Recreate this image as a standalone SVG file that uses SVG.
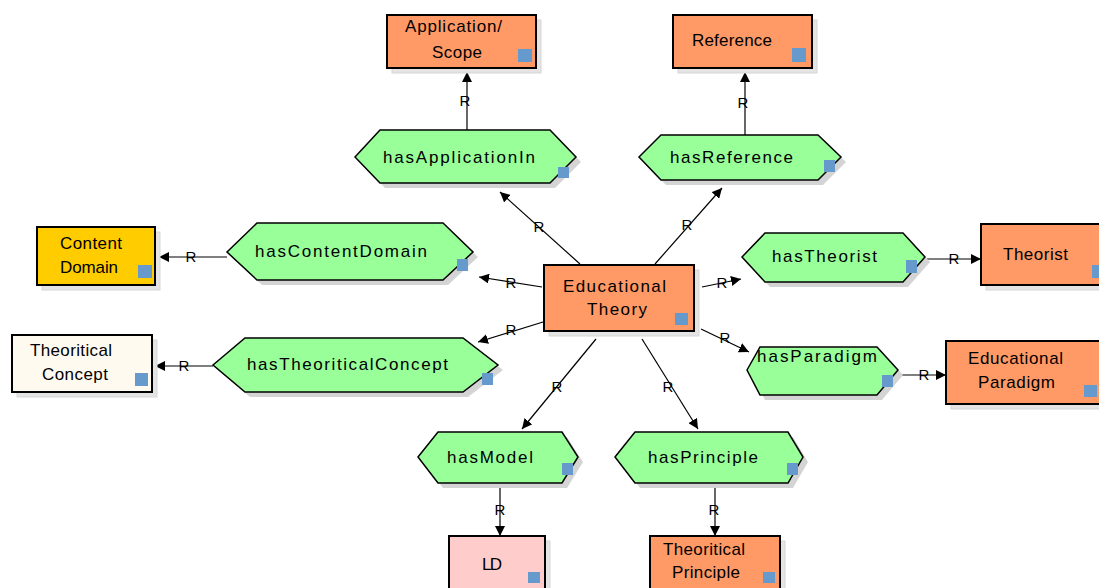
<svg xmlns="http://www.w3.org/2000/svg" width="1099" height="588" viewBox="0 0 1099 588">
<style>
  .t { font-family: "Liberation Sans", Arial, sans-serif; font-size: 17px; fill: #000; }
  .r { font-family: "Liberation Sans", Arial, sans-serif; font-size: 15px; fill: #000; text-anchor: middle; }
  .box { stroke: #000; stroke-width: 2; }
  .orange { fill: #FF9966; }
  .gold { fill: #FFCC00; }
  .cream { fill: #FFFAF0; }
  .pink { fill: #FFCCCC; }
  .hex { fill: #99FF99; stroke: #000; stroke-width: 1.5; }
  .shadow { fill: #e4e4e4; stroke: #d6d6d6; stroke-width: 1; }
  .hshadow { fill: #d4d4d4; }
  .sq { fill: #6699CC; }
  .conn { stroke: #000; stroke-width: 1.2; fill: none; marker-end: url(#arr); }
</style>
<defs>
  <marker id="arr" viewBox="0 0 10 10" refX="10" refY="5" markerWidth="10" markerHeight="10" markerUnits="userSpaceOnUse" orient="auto">
    <path d="M0,0 L10,5 L0,10 z" fill="#000"/>
  </marker>
</defs>
<rect width="1099" height="588" fill="#fff"/>

<g id="connectors">
  <line class="conn" x1="580" y1="264" x2="500" y2="192"/>
  <line class="conn" x1="655" y1="264" x2="722" y2="188"/>
  <line class="conn" x1="542" y1="287" x2="479" y2="277"/>
  <line class="conn" x1="702" y1="287" x2="741" y2="279"/>
  <line class="conn" x1="543" y1="322" x2="478" y2="342"/>
  <line class="conn" x1="701" y1="329" x2="749" y2="352"/>
  <line class="conn" x1="596" y1="339" x2="522" y2="429"/>
  <line class="conn" x1="642" y1="339" x2="698" y2="429"/>
  <line class="conn" x1="467" y1="130" x2="467" y2="72"/>
  <line class="conn" x1="745" y1="135" x2="745" y2="72"/>
  <line class="conn" x1="227" y1="257" x2="159" y2="257"/>
  <line class="conn" x1="213" y1="366" x2="155" y2="366"/>
  <line class="conn" x1="927" y1="259" x2="981" y2="259"/>
  <line class="conn" x1="902" y1="375" x2="946" y2="375"/>
  <line class="conn" x1="500" y1="483" x2="500" y2="536"/>
  <line class="conn" x1="715" y1="483" x2="715" y2="536"/>
  <text class="r" x="539" y="232">R</text>
  <text class="r" x="687" y="230">R</text>
  <text class="r" x="511" y="288">R</text>
  <text class="r" x="722" y="288">R</text>
  <text class="r" x="511" y="335">R</text>
  <text class="r" x="725" y="343">R</text>
  <text class="r" x="557" y="392">R</text>
  <text class="r" x="668" y="392">R</text>
  <text class="r" x="465" y="106">R</text>
  <text class="r" x="743" y="108">R</text>
  <text class="r" x="191" y="262">R</text>
  <text class="r" x="184" y="371">R</text>
  <text class="r" x="954" y="264">R</text>
  <text class="r" x="924" y="380">R</text>
  <text class="r" x="500" y="515">R</text>
  <text class="r" x="714" y="515">R</text>
</g>

<g id="node-application-scope">
  <rect class="shadow" x="392" y="20" width="149" height="53"/>
  <rect class="box orange" x="387" y="15" width="149" height="53"/>
  <text class="t" x="405" y="32" textLength="97" lengthAdjust="spacing">Application/</text>
  <text class="t" x="432" y="58" textLength="50" lengthAdjust="spacing">Scope</text>
  <rect class="sq" x="518" y="49" width="14" height="13"/>
</g>

<g id="node-reference">
  <rect class="shadow" x="678" y="20" width="139" height="53"/>
  <rect class="box orange" x="673" y="15" width="139" height="53"/>
  <text class="t" x="692" y="46" textLength="80" lengthAdjust="spacing">Reference</text>
  <rect class="sq" x="792" y="48" width="14" height="14"/>
</g>

<g id="node-content-domain">
  <rect class="shadow" x="42" y="232" width="118" height="58"/>
  <rect class="box gold" x="37" y="227" width="118" height="58"/>
  <text class="t" x="60" y="249" textLength="62" lengthAdjust="spacing">Content</text>
  <text class="t" x="60" y="273" textLength="58" lengthAdjust="spacing">Domain</text>
  <rect class="sq" x="138" y="265" width="14" height="13"/>
</g>

<g id="node-theoritical-concept">
  <rect class="shadow" x="17" y="340" width="140" height="57"/>
  <rect class="box cream" x="12" y="335" width="140" height="57"/>
  <text class="t" x="30" y="356" textLength="82" lengthAdjust="spacing">Theoritical</text>
  <text class="t" x="42" y="380" textLength="66" lengthAdjust="spacing">Concept</text>
  <rect class="sq" x="135" y="373" width="13" height="13"/>
</g>

<g id="node-educational-theory">
  <rect class="shadow" x="549" y="270" width="150" height="66"/>
  <rect class="box orange" x="544" y="265" width="150" height="66"/>
  <text class="t" x="563" y="292" textLength="103" lengthAdjust="spacing">Educational</text>
  <text class="t" x="587" y="315" textLength="60" lengthAdjust="spacing">Theory</text>
  <rect class="sq" x="675" y="313" width="13" height="12"/>
</g>

<g id="node-theorist">
  <rect class="shadow" x="986" y="229" width="125" height="61"/>
  <rect class="box orange" x="981" y="224" width="125" height="61"/>
  <text class="t" x="1003" y="260" textLength="65" lengthAdjust="spacing">Theorist</text>
  <rect class="sq" x="1092" y="265" width="14" height="13"/>
</g>

<g id="node-educational-paradigm">
  <rect class="shadow" x="951" y="346" width="160" height="63"/>
  <rect class="box orange" x="946" y="341" width="160" height="63"/>
  <text class="t" x="968" y="364" textLength="95" lengthAdjust="spacing">Educational</text>
  <text class="t" x="978" y="388" textLength="77" lengthAdjust="spacing">Paradigm</text>
  <rect class="sq" x="1084" y="385" width="13" height="12"/>
</g>

<g id="node-ld">
  <rect class="shadow" x="454" y="541" width="96" height="60"/>
  <rect class="box pink" x="449" y="536" width="96" height="60"/>
  <text class="t" x="482" y="570" textLength="20" lengthAdjust="spacing">LD</text>
  <rect class="sq" x="528" y="572" width="12" height="11"/>
</g>

<g id="node-theoritical-principle">
  <rect class="shadow" x="655" y="541" width="130" height="60"/>
  <rect class="box orange" x="650" y="536" width="130" height="60"/>
  <text class="t" x="663" y="555" textLength="82" lengthAdjust="spacing">Theoritical</text>
  <text class="t" x="672" y="578" textLength="68" lengthAdjust="spacing">Principle</text>
  <rect class="sq" x="763" y="572" width="12" height="11"/>
</g>

<g id="node-hasApplicationIn">
  <polygon class="hshadow" points="360,162 385,135 555,135 581,162 555,188 385,188"/>
  <polygon class="hex" points="355,157 380,130 550,130 576,157 550,183 380,183"/>
  <text class="t" x="383" y="163" textLength="152" lengthAdjust="spacing">hasApplicationIn</text>
  <rect class="sq" x="558" y="167" width="11" height="11"/>
</g>

<g id="node-hasReference">
  <polygon class="hshadow" points="644,162 666,140 823,140 846,162 823,185 666,185"/>
  <polygon class="hex" points="639,157 661,135 818,135 841,157 818,180 661,180"/>
  <text class="t" x="670" y="163" textLength="123" lengthAdjust="spacing">hasReference</text>
  <rect class="sq" x="824" y="160" width="11" height="12"/>
</g>

<g id="node-hasContentDomain">
  <polygon class="hshadow" points="232,257 262,228 448,228 478,257 448,285 262,285"/>
  <polygon class="hex" points="227,252 257,223 443,223 473,252 443,280 257,280"/>
  <text class="t" x="255" y="257" textLength="172" lengthAdjust="spacing">hasContentDomain</text>
  <rect class="sq" x="457" y="259" width="11" height="12"/>
</g>

<g id="node-hasTheoriticalConcept">
  <polygon class="hshadow" points="218,370 250,343 468,343 503,370 468,397 250,397"/>
  <polygon class="hex" points="213,365 245,338 463,338 498,365 463,392 245,392"/>
  <text class="t" x="247" y="370" textLength="201" lengthAdjust="spacing">hasTheoriticalConcept</text>
  <rect class="sq" x="482" y="373" width="11" height="12"/>
</g>

<g id="node-hasTheorist">
  <polygon class="hshadow" points="747,262 770,238 908,238 930,262 908,287 770,287"/>
  <polygon class="hex" points="742,257 765,233 903,233 925,257 903,282 765,282"/>
  <text class="t" x="772" y="262" textLength="105" lengthAdjust="spacing">hasTheorist</text>
  <rect class="sq" x="906" y="260" width="11" height="13"/>
</g>

<g id="node-hasParadigm">
  <polygon class="hshadow" points="752,375 765,352 882,352 903,375 882,400 765,400"/>
  <polygon class="hex" points="747,370 760,347 877,347 898,370 877,395 760,395"/>
  <text class="t" x="757" y="362" textLength="120" lengthAdjust="spacing">hasParadigm</text>
  <rect class="sq" x="882" y="375" width="11" height="12"/>
</g>

<g id="node-hasModel">
  <polygon class="hshadow" points="423,462 443,437 567,437 583,462 567,488 443,488"/>
  <polygon class="hex" points="418,457 438,432 562,432 578,457 562,483 438,483"/>
  <text class="t" x="447" y="463" textLength="86" lengthAdjust="spacing">hasModel</text>
  <rect class="sq" x="562" y="463" width="11" height="12"/>
</g>

<g id="node-hasPrinciple">
  <polygon class="hshadow" points="620,462 640,437 793,437 808,462 793,488 640,488"/>
  <polygon class="hex" points="615,457 635,432 788,432 803,457 788,483 635,483"/>
  <text class="t" x="648" y="463" textLength="110" lengthAdjust="spacing">hasPrinciple</text>
  <rect class="sq" x="787" y="463" width="11" height="12"/>
</g>
</svg>
